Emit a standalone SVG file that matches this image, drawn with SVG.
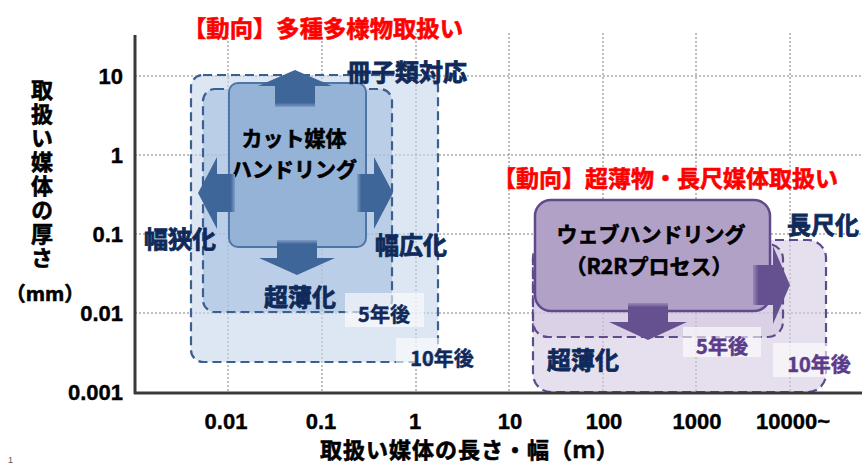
<svg xmlns="http://www.w3.org/2000/svg" width="862" height="465" viewBox="0 0 862 465">
<defs>
<style>
.grid{stroke:#7f7f7f;stroke-width:1;stroke-dasharray:2 2;fill:none}
.axis{stroke:#3a3a3a;stroke-width:3;fill:none}
.num{font-family:"Liberation Sans",Arial,sans-serif;font-weight:bold;font-size:22px;fill:#000;stroke:#000;stroke-width:0.4;dominant-baseline:central}
.jp{font-family:"Noto Sans CJK JP","Noto Sans",sans-serif;font-weight:bold;dominant-baseline:central}
.red{font-size:23px;fill:#ff0000;stroke:#ff0000;stroke-width:0.6}
.blk{fill:#000;stroke:#000;stroke-width:0.6}
.lbl{font-size:24px;fill:#0f2a5a;stroke:#0f2a5a;stroke-width:0.8;text-anchor:middle}
.yr{font-size:20px;fill:#0f2a5a;stroke:#0f2a5a;stroke-width:0.5;text-anchor:middle}
.yrp{font-size:20px;fill:#5a3c8a;stroke:#5a3c8a;stroke-width:0.5;text-anchor:middle}
.box{font-size:21px;fill:#000;stroke:#000;stroke-width:0.6;text-anchor:middle}
.dashB{stroke:#3b5f8f;stroke-width:2.2;stroke-dasharray:9 5}
.dashP{stroke:#5f4b8b;stroke-width:2.2;stroke-dasharray:9 5}
.tag{fill:#ffffff;opacity:0.6}
</style>
<linearGradient id="gUp" x1="0" y1="1" x2="0" y2="0"><stop offset="0" stop-color="#7f9cc6"/><stop offset="0.12" stop-color="#3e6699"/><stop offset="1" stop-color="#3e6699"/></linearGradient>
<linearGradient id="gDown" x1="0" y1="0" x2="0" y2="1"><stop offset="0" stop-color="#7f9cc6"/><stop offset="0.12" stop-color="#3e6699"/><stop offset="1" stop-color="#3e6699"/></linearGradient>
<linearGradient id="gLeft" x1="1" y1="0" x2="0" y2="0"><stop offset="0" stop-color="#7f9cc6"/><stop offset="0.12" stop-color="#3e6699"/><stop offset="1" stop-color="#3e6699"/></linearGradient>
<linearGradient id="gRight" x1="0" y1="0" x2="1" y2="0"><stop offset="0" stop-color="#7f9cc6"/><stop offset="0.12" stop-color="#3e6699"/><stop offset="1" stop-color="#3e6699"/></linearGradient>
<linearGradient id="pRight" x1="0" y1="0" x2="1" y2="0"><stop offset="0" stop-color="#9a88b8"/><stop offset="0.15" stop-color="#665190"/><stop offset="1" stop-color="#665190"/></linearGradient>
<linearGradient id="pDown" x1="0" y1="0" x2="0" y2="1"><stop offset="0" stop-color="#9a88b8"/><stop offset="0.12" stop-color="#665190"/><stop offset="1" stop-color="#665190"/></linearGradient>
</defs>
<rect width="862" height="465" fill="#ffffff"/>

<g id="grid">
<path class="grid" d="M228 33V393M322 33V393M416 33V393M509 33V393M603 33V393M696 33V393M790 33V393"/>
<path class="grid" d="M135 76H862M135 155H862M135 234H862M135 313H862"/>
</g>

<g id="titles">
<text class="jp red" x="183" y="27" textLength="280" lengthAdjust="spacingAndGlyphs">【動向】多種多様物取扱い</text>
<text class="jp red" x="493" y="177" textLength="345" lengthAdjust="spacingAndGlyphs">【動向】超薄物・長尺媒体取扱い</text>
</g>

<g id="cut-area">
<rect id="cut-10y" x="191" y="75" width="247" height="287" rx="12" fill="#c6d6eb" fill-opacity="0.6" class="dashB"/>
<rect id="cut-5y" x="203" y="89" width="189" height="223" rx="12" fill="#9fb9dd" fill-opacity="0.55" class="dashB"/>
</g>

<g id="web-area">
<rect id="web-10y" x="533" y="240" width="293" height="152" rx="18" fill="#d5cce3" fill-opacity="0.6" class="dashP"/>
<rect id="web-5y" x="533" y="244" width="250" height="93" rx="15" fill="#c8bcd9" fill-opacity="0.4" class="dashP"/>
</g>

<g id="node-cut">
<rect x="229" y="83" width="137" height="164" rx="9" fill="#95b3d7" stroke="#4f75a6" stroke-width="2"/>
<text class="jp box" x="294" y="137">カット媒体</text>
<text class="jp box" x="294" y="168">ハンドリング</text>
</g>

<g id="connectors">
<polygon points="295,70 332,86 315,86 315,107 275,107 275,86 258,86" fill="url(#gUp)"/>
<polygon points="198,193 217,157 217,174 235,174 235,212 217,212 217,229" fill="url(#gLeft)"/>
<polygon points="393,193 374,157 374,174 357,174 357,212 374,212 374,229" fill="url(#gRight)"/>
<polygon points="297,275 335,258 317,258 317,240 277,240 277,258 259,258" fill="url(#gDown)"/>
</g>

<g id="node-web">
<rect x="535" y="200" width="235" height="111" rx="16" fill="#b2a1c7" stroke="#5f4b8b" stroke-width="2.5"/>
<text class="jp box" x="651" y="233">ウェブハンドリング</text>
<text class="jp box" x="649" y="265">（R2Rプロセス）</text>
</g>
<g id="arrows-web">
<polygon points="790,285 773,324 773,305 753,305 753,265 773,265 773,246" fill="url(#pRight)"/>
<polygon points="648,340 687,322 668,322 668,303 628,303 628,322 609,322" fill="url(#pDown)"/>
</g>

<g id="labels">
<text class="jp lbl" x="407" y="70">冊子類対応</text>
<text class="jp lbl" x="180" y="237">幅狭化</text>
<text class="jp lbl" x="411" y="243">幅広化</text>
<text class="jp lbl" x="300" y="295">超薄化</text>
<text class="jp lbl" x="823" y="223">長尺化</text>
<text class="jp lbl" x="583" y="358">超薄化</text>
<rect class="tag" x="345" y="293" width="79" height="34"/>
<rect class="tag" x="396" y="338" width="70" height="29"/>
<text class="jp yr" x="384" y="313">5年後</text>
<text class="jp yr" x="442" y="357">10年後</text>
<rect class="tag" x="683" y="327" width="78" height="30"/>
<rect class="tag" x="773" y="343" width="60" height="34"/>
<text class="jp yrp" x="722" y="345">5年後</text>
<text class="jp yrp" x="819" y="363">10年後</text>
</g>

<g id="axes">
<path class="axis" d="M135 35V394M134 393H862"/>
<text class="num" x="123" y="76" text-anchor="end">10</text>
<text class="num" x="123" y="155" text-anchor="end">1</text>
<text class="num" x="123" y="234" text-anchor="end">0.1</text>
<text class="num" x="123" y="313" text-anchor="end">0.01</text>
<text class="num" x="123" y="392" text-anchor="end">0.001</text>
<text class="num" x="226" y="421" text-anchor="middle">0.01</text>
<text class="num" x="321" y="421" text-anchor="middle">0.1</text>
<text class="num" x="415" y="421" text-anchor="middle">1</text>
<text class="num" x="510" y="421" text-anchor="middle">10</text>
<text class="num" x="604" y="421" text-anchor="middle">100</text>
<text class="num" x="697" y="421" text-anchor="middle">1000</text>
<text class="num" x="756" y="421">10000~</text>
<text class="jp blk" font-size="22" x="42" y="79" writing-mode="vertical-rl" letter-spacing="2">取扱い媒体の厚さ</text>
<text class="jp blk" font-size="20" x="45" y="292" text-anchor="middle">（mm）</text>
<text class="jp blk" font-size="22" x="320" y="448" letter-spacing="1">取扱い媒体の長さ・幅（ｍ）</text>
<text x="8" y="463" font-family="Liberation Sans, sans-serif" font-size="9" fill="#555">1</text>
</g>
</svg>
